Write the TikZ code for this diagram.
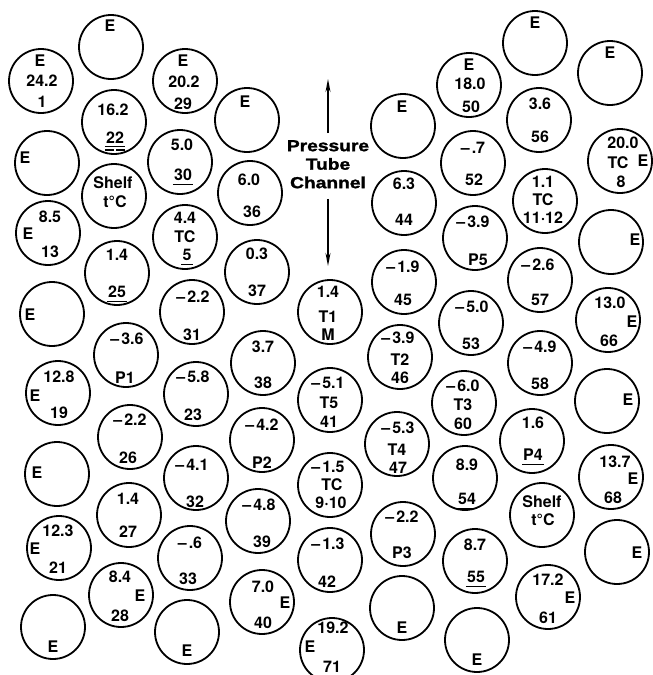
\documentclass[tikz,border=0pt]{standalone}
\usepackage{fontspec}
\usetikzlibrary{arrows.meta}
\newfontfamily\lbfont{TeX Gyre Heros}
\newfontfamily\ptcfont{Liberation Sans}[BoldFeatures={FakeBold=1.5}]
\newcommand\Ci[3]{\node[circ] (#1) at (#2,#3) {};}
\newcommand\Tx[4]{\node[lbl] (#1) at (#2,#3) {#4};}
\newcommand\Ul[1]{\draw[ul] ([yshift=-3.5pt,xshift=-1pt]#1.south west) -- ([yshift=-3.5pt,xshift=1pt]#1.south east);}
\newcommand\Mv[1]{–\hspace{2pt}#1}
\begin{document}
\begin{tikzpicture}[x=1pt,y=-1pt,
  circ/.style={circle,draw,line width=1.8pt,minimum size=64pt,inner sep=0pt},
  lbl/.style={inner sep=0pt,font=\lbfont\bfseries\fontsize{16pt}{18pt}\selectfont},
  ul/.style={line width=1.3pt},
  arr/.style={line width=1.4pt,-{Stealth[length=13pt,width=5pt]}}]
\useasboundingbox (0,0) rectangle (653,675);
\clip (0,0) rectangle (653,675);
% ---- column 1
\Ci{c1}{41}{81} \Tx{c1a}{40}{61}{E} \Tx{c1b}{42}{81}{24.2} \Tx{c1c}{42}{102}{1}
\Ci{e1}{47}{163} \Tx{e1a}{25}{158}{E}
\Ci{c13}{48}{233} \Tx{c13a}{50}{217}{8.5} \Tx{c13b}{28}{234}{E} \Tx{c13c}{50}{252}{13}
\Ci{e2}{52}{314} \Tx{e2a}{30}{315}{E}
\Ci{c19}{58}{393} \Tx{c19a}{59}{377}{12.8} \Tx{c19b}{35}{396}{E} \Tx{c19c}{59}{413}{19}
\Ci{e3}{57}{474} \Tx{e3a}{37}{473}{E}
\Ci{c21}{59}{548} \Tx{c21a}{58}{531}{12.3} \Tx{c21b}{35}{549}{E} \Tx{c21c}{58}{568}{21}
\Ci{e4}{53}{627} \Tx{e4a}{53}{647}{E}
% ---- column 2
\Ci{e5}{111}{47} \Tx{e5a}{110}{26}{E}
\Ci{c22}{114}{122} \Tx{c22a}{113}{110}{16.2} \Tx{c22b}{115}{138}{22}
\Ci{s1}{114}{196} \Tx{s1a}{113}{183}{Shelf} \Tx{s1b}{115}{202}{t°C}
\Ci{c25}{117}{273} \Tx{c25a}{117}{255}{1.4} \Tx{c25b}{117}{292}{25}
\Ci{p1}{126}{355} \Tx{p1a}{127}{339}{\Mv{3.6}} \Tx{p1b}{125}{378}{P1}
\Ci{c26}{130}{437} \Tx{c26a}{130}{420}{\Mv{2.2}} \Tx{c26b}{128}{458}{26}
\Ci{c27}{129}{515} \Tx{c27a}{128}{499}{1.4} \Tx{c27b}{128}{532}{27}
\Ci{c28}{121}{595} \Tx{c28a}{120}{577}{8.4} \Tx{c28b}{140}{596}{E} \Tx{c28c}{120}{616}{28}
% ---- column 3
\Ci{c29}{185}{81} \Tx{c29a}{183}{61}{E} \Tx{c29b}{184}{82}{20.2} \Tx{c29c}{183}{104}{29}
\Ci{c30}{180}{162} \Tx{c30a}{182}{145}{5.0} \Tx{c30b}{183}{175}{30}
\Ci{c5}{185}{237} \Tx{c5a}{185}{218}{4.4} \Tx{c5b}{185}{237}{TC} \Tx{c5c}{187}{255}{5}
\Ci{c31}{192}{312} \Tx{c31a}{193}{297}{\Mv{2.2}} \Tx{c31b}{192}{335}{31}
\Ci{c23}{196}{394} \Tx{c23a}{193}{377}{\Mv{5.8}} \Tx{c23b}{193}{415}{23}
\Ci{c32}{196}{478} \Tx{c32a}{192}{465}{\Mv{4.1}} \Tx{c32b}{195}{502}{32}
\Ci{c33}{190}{558} \Tx{c33a}{190}{543}{\Mv{.6}} \Tx{c33b}{188}{579}{33}
\Ci{e6}{187}{632} \Tx{e6a}{187}{651}{E}
% ---- column 4
\Ci{e7}{247}{120} \Tx{e7a}{245}{102}{E}
\Ci{c36}{250}{193} \Tx{c36a}{249}{180}{6.0} \Tx{c36b}{252}{212}{36}
\Ci{c37}{257}{272} \Tx{c37a}{257}{254}{0.3} \Tx{c37b}{257}{291}{37}
\Ci{c38}{263}{363} \Tx{c38a}{263}{347}{3.7} \Tx{c38b}{263}{383}{38}
\Ci{p2}{262}{440} \Tx{p2a}{262}{425}{\Mv{4.2}} \Tx{p2b}{262}{463}{P2}
\Ci{c39}{258}{521} \Tx{c39a}{259}{505}{\Mv{4.8}} \Tx{c39b}{262}{542}{39}
\Ci{c40}{262}{602} \Tx{c40a}{263}{587}{7.0} \Tx{c40b}{285}{603}{E} \Tx{c40c}{263}{623}{40}
% ---- column 5
\Ci{t1}{330}{312} \Tx{t1a}{328}{292}{1.4} \Tx{t1b}{328}{317}{T1} \Tx{t1c}{328}{335}{M}
\Ci{c41}{330}{400} \Tx{c41a}{328}{383}{\Mv{5.1}} \Tx{c41b}{329}{403}{T5} \Tx{c41c}{329}{422}{41}
\Ci{c910}{330}{485} \Tx{c910a}{328}{467}{\Mv{1.5}} \Tx{c910b}{332}{485}{TC} \Tx{c910c}{331}{503}{9·10}
\Ci{c42}{330}{560} \Tx{c42a}{328}{544}{\Mv{1.3}} \Tx{c42b}{327}{582}{42}
\Ci{c71}{332}{650} \Tx{c71a}{333}{628}{19.2} \Tx{c71b}{310}{647}{E} \Tx{c71c}{332}{667}{71}
% ---- column 6
\Ci{e8}{403}{126} \Tx{e8a}{402}{107}{E}
\Ci{c44}{404}{203} \Tx{c44a}{404}{184}{6.3} \Tx{c44b}{404}{220}{44}
\Ci{c45}{404}{282} \Tx{c45a}{403}{267}{\Mv{1.9}} \Tx{c45b}{403}{300}{45}
\Ci{c46}{400}{357} \Tx{c46a}{398}{338}{\Mv{3.9}} \Tx{c46b}{400}{360}{T2} \Tx{c46c}{400}{378}{46}
\Ci{c47}{397}{444} \Tx{c47a}{398}{428}{\Mv{5.3}} \Tx{c47b}{397}{450}{T4} \Tx{c47c}{398}{468}{47}
\Ci{p3}{403}{534} \Tx{p3a}{402}{517}{\Mv{2.2}} \Tx{p3b}{402}{553}{P3}
\Ci{e9}{402}{608} \Tx{e9a}{402}{628}{E}
% ---- column 7
\Ci{c50}{469}{85} \Tx{c50a}{469}{65}{E} \Tx{c50b}{470}{84}{18.0} \Tx{c50c}{471}{107}{50}
\Ci{c52}{473}{163} \Tx{c52a}{473}{148}{\Mv{.7}} \Tx{c52b}{474}{180}{52}
\Ci{p5}{475}{238} \Tx{p5a}{473}{222}{\Mv{3.9}} \Tx{p5b}{478}{260}{P5}
\Ci{c53}{471}{323} \Tx{c53a}{472}{307}{\Mv{5.0}} \Tx{c53b}{471}{344}{53}
\Ci{c60}{464}{403} \Tx{c60a}{463}{386}{\Mv{6.0}} \Tx{c60b}{463}{405}{T3} \Tx{c60c}{463}{424}{60}
\Ci{c54}{465}{478} \Tx{c54a}{467}{465}{8.9} \Tx{c54b}{467}{499}{54}
\Ci{c55}{475}{561} \Tx{c55a}{475}{545}{8.7} \Tx{c55b}{476}{577}{55}
\Ci{e10}{477}{640} \Tx{e10a}{477}{660}{E}
% ---- column 8
\Ci{e11}{535}{43} \Tx{e11a}{535}{23}{E}
\Ci{c56}{539}{120} \Tx{c56a}{540}{104}{3.6} \Tx{c56b}{540}{137}{56}
\Ci{c1112}{545}{201} \Tx{c1112a}{543}{182}{1.1} \Tx{c1112b}{543}{200}{TC} \Tx{c1112c}{543}{218}{11·12}
\Ci{c57}{540}{280} \Tx{c57a}{538}{265}{\Mv{2.6}} \Tx{c57b}{540}{300}{57}
\Ci{c58}{540}{363} \Tx{c58a}{540}{347}{\Mv{4.9}} \Tx{c58b}{540}{384}{58}
\Ci{p4}{532}{441} \Tx{p4a}{533}{423}{1.6} \Tx{p4b}{533}{455}{P4}
\Ci{s2}{542}{515} \Tx{s2a}{542}{502}{Shelf} \Tx{s2b}{543}{520}{t°C}
\Ci{c61}{548}{597} \Tx{c61a}{548}{580}{17.2} \Tx{c61b}{570}{598}{E} \Tx{c61c}{548}{618}{61}
% ---- column 9
\Ci{e12}{610}{73} \Tx{e12a}{610}{53}{E}
\Ci{c8}{620}{161} \Tx{c8a}{623}{143}{20.0} \Tx{c8b}{618}{163}{TC} \Tx{c8c}{643}{161}{E} \Tx{c8d}{621}{182}{8}
\Ci{e13}{611}{242} \Tx{e13a}{635}{240}{E}
\Ci{c66}{608}{320} \Tx{c66a}{610}{303}{13.0} \Tx{c66b}{632}{322}{E} \Tx{c66c}{609}{341}{66}
\Ci{e14}{607}{401} \Tx{e14a}{628}{400}{E}
\Ci{c68}{611}{477} \Tx{c68a}{615}{462}{13.7} \Tx{c68b}{633}{479}{E} \Tx{c68c}{613}{498}{68}
\Ci{e15}{617}{552} \Tx{e15a}{637}{553}{E}
% ---- underlines
\draw[ul] ([yshift=-2.5pt,xshift=-1pt]c22b.south west) -- ([yshift=-2.5pt,xshift=1pt]c22b.south east);
\draw[ul] ([yshift=-6pt,xshift=-1pt]c22b.south west) -- ([yshift=-6pt,xshift=-1pt]c22b.south);
\draw[ul] ([yshift=-6pt,xshift=1pt]c22b.south) -- ([yshift=-6pt,xshift=1pt]c22b.south east);
\Ul{c30b} \Ul{c5c} \Ul{c25b} \Ul{p4b} \Ul{c54b} \Ul{c55b}
% ---- pressure tube channel
\node[inner xsep=0pt,inner ysep=5pt,align=center] (ptc) at (328,166)
  {\scalebox{1.2}[1]{\ptcfont\bfseries\fontsize{16pt}{18.5pt}\selectfont
   \begin{tabular}{@{}c@{}}Pressure\\Tube\\Channel\end{tabular}}};
\coordinate (atop) at (328,79);
\coordinate (abot) at (328,266);
\draw[arr] (ptc.north) -- (atop);
\draw[arr] (ptc.south) -- (abot);
\end{tikzpicture}
\end{document}
